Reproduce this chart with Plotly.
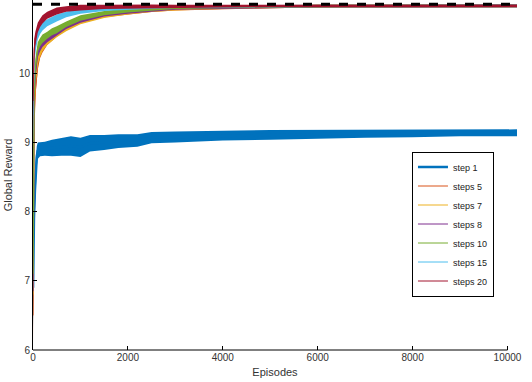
import plotly.graph_objects as go

step1_x = [1, 10, 20, 40, 60, 80, 100, 150, 250, 400, 600, 800, 1000, 1200, 1500,
           1800, 2200, 2500, 3000, 3500, 4000, 5000, 6000, 7000, 8000, 9000, 10200]
step1_y = [6.9, 7.5, 7.9, 8.3, 8.6, 8.8, 8.88, 8.9, 8.91, 8.92, 8.94, 8.95, 8.93, 8.99, 9.0,
           9.02, 9.03, 9.07, 9.08, 9.09, 9.1, 9.11, 9.12, 9.13, 9.13, 9.14, 9.14]
step1_err = [0.6, 0.5, 0.4, 0.3, 0.2, 0.15, 0.12, 0.1, 0.1, 0.12, 0.13, 0.14, 0.14, 0.12, 0.11,
             0.1, 0.09, 0.08, 0.08, 0.07, 0.07, 0.07, 0.06, 0.06, 0.055, 0.05, 0.05]

episodes = [1, 10, 25, 50, 75, 100, 150, 200, 300, 400, 500, 700, 1000, 1500, 2000,
            2500, 3000, 4000, 5000, 6000, 8000, 10200]
steps5 = [6.5, 8.8, 9.3, 9.75, 10.0, 10.12, 10.28, 10.36, 10.46, 10.52, 10.58, 10.67, 10.76,
          10.84, 10.88, 10.91, 10.93, 10.95, 10.96, 10.97, 10.97, 10.975]
steps7 = [6.8, 9.0, 9.5, 9.9, 10.1, 10.2, 10.3, 10.38, 10.46, 10.52, 10.57, 10.65, 10.75,
          10.83, 10.88, 10.91, 10.93, 10.95, 10.96, 10.97, 10.97, 10.975]
steps8 = [6.85, 9.1, 9.6, 10.0, 10.2, 10.3, 10.38, 10.44, 10.5, 10.55, 10.6, 10.68, 10.77,
          10.85, 10.89, 10.92, 10.94, 10.95, 10.96, 10.97, 10.97, 10.975]
steps10 = [7.1, 9.0, 9.7, 10.1, 10.3, 10.38, 10.45, 10.5, 10.55, 10.6, 10.63, 10.71, 10.8,
           10.87, 10.91, 10.93, 10.95, 10.96, 10.97, 10.97, 10.975, 10.975]
steps15 = [9.4, 9.9, 10.2, 10.4, 10.5, 10.56, 10.63, 10.68, 10.73, 10.77, 10.8, 10.85, 10.9,
           10.93, 10.95, 10.96, 10.965, 10.97, 10.97, 10.975, 10.975, 10.975]
steps20 = [9.6, 10.1, 10.35, 10.5, 10.6, 10.66, 10.73, 10.78, 10.84, 10.87, 10.9, 10.93, 10.95,
           10.96, 10.965, 10.97, 10.97, 10.97, 10.975, 10.975, 10.975, 10.975]
steps_err = [0.4, 0.25, 0.15, 0.1, 0.08, 0.07, 0.06, 0.06, 0.05, 0.05, 0.05, 0.04, 0.04,
             0.03, 0.03, 0.025, 0.02, 0.02, 0.02, 0.02, 0.02, 0.02]

optimal = 11
x_ticks = [0, 2000, 4000, 6000, 8000, 10000]
x_labels = ['0', '2000', '4000', '6000', '8000', '10000']
y_ticks = [6, 7, 8, 9, 10, 11]

series = [
    ('step 1', step1_x, step1_y, step1_err, '#0072BD', 2.5),
    ('steps 5', episodes, steps5, steps_err, '#D95319', 1),
    ('steps 7', episodes, steps7, steps_err, '#EDB120', 1),
    ('steps 8', episodes, steps8, steps_err, '#7E2F8E', 1),
    ('steps 10', episodes, steps10, steps_err, '#77AC30', 1),
    ('steps 15', episodes, steps15, steps_err, '#4DBEEE', 1),
    ('steps 20', episodes, steps20, steps_err, '#A2142F', 1),
]

fig = go.Figure()

for name, xs, ys, errs, color, lw in series:
    lower = [y - e for y, e in zip(ys, errs)]
    upper = [y + e for y, e in zip(ys, errs)]
    fig.add_trace(go.Scatter(x=xs, y=lower, mode='lines', line=dict(width=0, color=color),
                             showlegend=False, hoverinfo='skip'))
    fig.add_trace(go.Scatter(x=xs, y=upper, mode='lines', line=dict(width=0, color=color),
                             fill='tonexty', fillcolor=color, showlegend=False, hoverinfo='skip'))
    fig.add_trace(go.Scatter(x=xs, y=ys, mode='lines', name=name,
                             line=dict(width=lw, color=color)))

# optimal reward
fig.add_trace(go.Scatter(x=[0, step1_x[-1]], y=[optimal, optimal], mode='lines',
                         line=dict(color='black', width=3, dash='9px,9px'), showlegend=False))

# x axis line stops at the last tick, like the original
fig.add_shape(type='line', xref='x', yref='paper', x0=0, x1=10000, y0=0, y1=0,
              line=dict(color='black', width=1))

fig.update_layout(
    width=532, height=382,
    margin=dict(l=33, r=15, t=0, b=32),
    plot_bgcolor='white', paper_bgcolor='white',
    font=dict(family='Liberation Sans, Arial, sans-serif', size=10, color='#333333'),
    showlegend=True,
    legend=dict(x=0.783, y=0.36, xanchor='left', yanchor='middle', traceorder='normal',
                bordercolor='black', borderwidth=1, bgcolor='white',
                font=dict(size=9, color='#222222'), tracegroupgap=0),
)

fig.update_xaxes(range=[0, 10200], tickvals=x_ticks, ticktext=x_labels, ticks='inside',
                 ticklen=4, tickcolor='black', showgrid=False, zeroline=False, showline=False,
                 automargin=False,
                 title=dict(text='Episodes', standoff=6, font=dict(size=11)))
fig.update_yaxes(range=[6, 11.06], tickvals=y_ticks, ticks='inside', ticklen=4,
                 tickcolor='black', showgrid=False, zeroline=False, showline=True,
                 linecolor='black', linewidth=1, automargin=False,
                 title=dict(text='Global Reward', standoff=4, font=dict(size=11)))

# drop the page's default body margin so the figure sits at the window's corner
fig.write_html("out.html", config={'displayModeBar': False},
               post_script="document.body.style.margin='0';document.body.style.overflow='hidden';")
